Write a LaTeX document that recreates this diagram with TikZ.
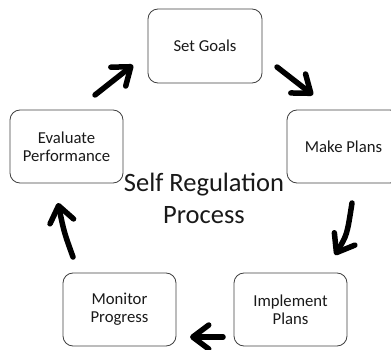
\documentclass[tikz,border=0pt]{standalone}
\usepackage{fontspec}
\setmainfont{Carlito}
\usetikzlibrary{arrows.meta}
\begin{document}
\begin{tikzpicture}[x=1pt,y=-1pt,
  stagebox/.style={draw=black!75,line width=0.8pt,rounded corners=10pt,
    minimum width=113pt,minimum height=73pt,align=center,inner sep=0pt,
    text=black!90,font=\fontsize{16.7}{18}\selectfont},
  cyclearrow/.style={line width=5.5pt,line cap=round,
    -{Straight Barb[length=16pt,width=24pt,line cap=round,line join=round]}},
  title/.style={align=center,inner sep=0pt,text=black!90,
    font=\fontsize{26.5}{32}\selectfont}]
\useasboundingbox (0,0) rectangle (391,350);
\clip (0,0) rectangle (391,350);
% process stages
\node[stagebox,minimum width=114pt,minimum height=74pt] (goals) at (205,46) {Set Goals};
\node[stagebox] (plans) at (343.5,146.5) {Make Plans};
\node[stagebox] (implement) at (290.5,309.5) {Implement\\Plans};
\node[stagebox] (monitor) at (119.5,309.5) {Monitor\\Progress};
\node[stagebox] (evaluate) at (66.5,146.5) {Evaluate\\Performance};
% centre label
\node[title] (label) at (204,198) {Self Regulation\\Process};
% arrow end points between the stages
\coordinate (a1) at (95,95);   \coordinate (b1) at (133,65);
\coordinate (a2) at (277,67);  \coordinate (b2) at (313,95);
\coordinate (a3) at (352,203); \coordinate (b3) at (335,255);
\coordinate (a4) at (223,337); \coordinate (b4) at (190,337);
\coordinate (a5) at (73,257);  \coordinate (b5) at (58,203);
% cycle arrows
\draw[cyclearrow] (a1) -- (b1);
\draw[cyclearrow] (a2) -- (b2);
\draw[cyclearrow] (a3) .. controls (347,235) .. (b3);
\draw[cyclearrow] (a4) -- (b4);
\draw[cyclearrow] (a5) .. controls (64,232) .. (b5);
\end{tikzpicture}
\end{document}
